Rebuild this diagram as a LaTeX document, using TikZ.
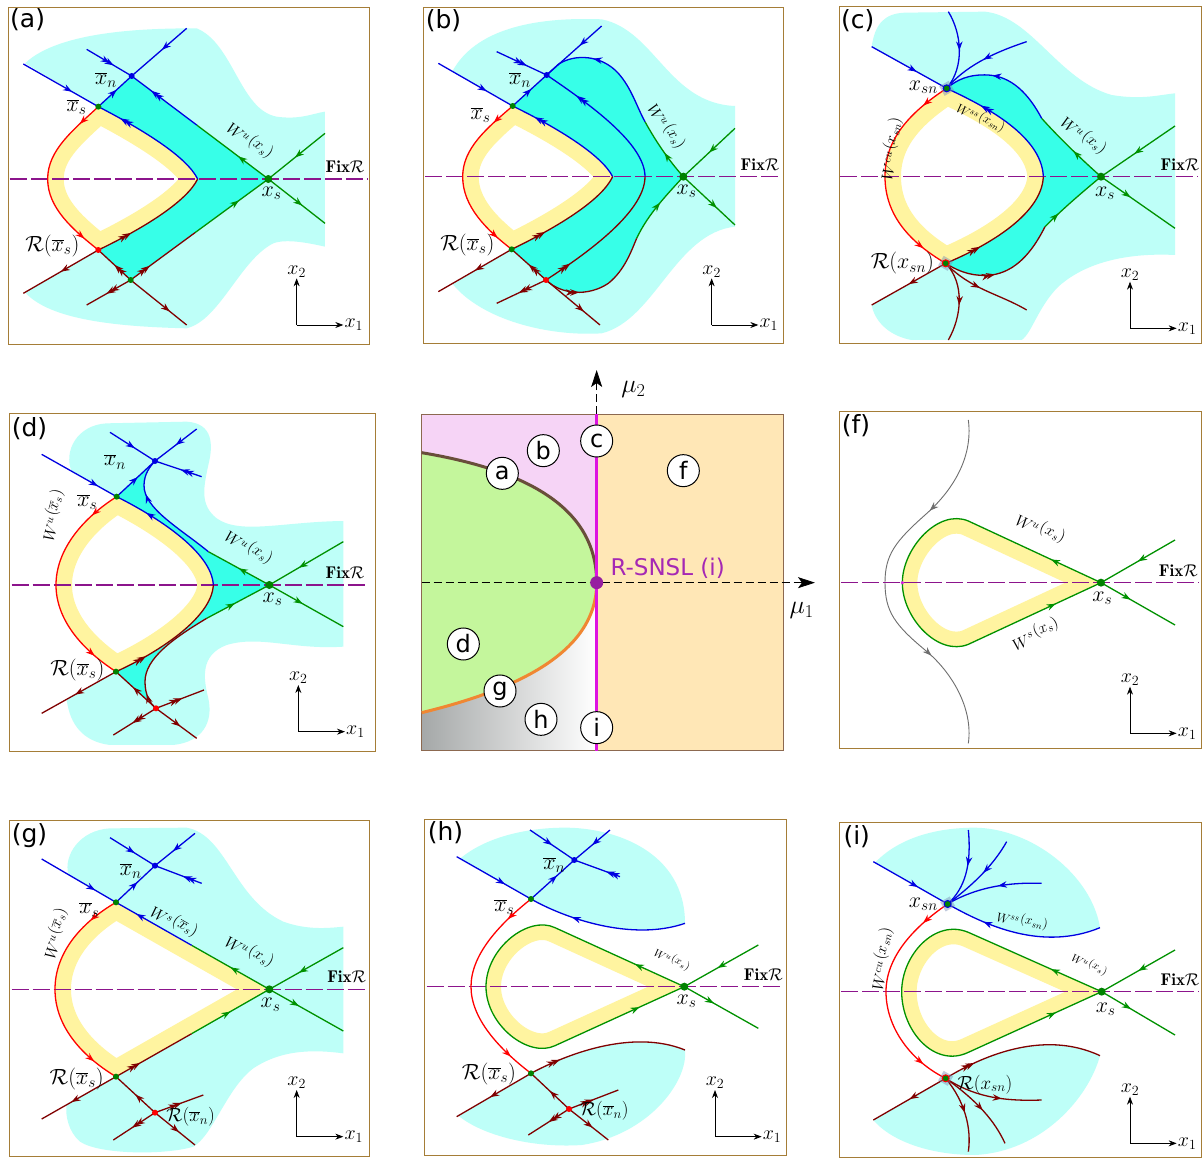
\RequirePackage{fix-cm}
\documentclass[tikz,border=0pt]{standalone}
\usepackage{fontspec}
\newfontfamily\dv{DejaVu Sans}
\usetikzlibrary{arrows.meta,decorations.markings}
\definecolor{cblue}{RGB}{0,0,225}
\definecolor{cgreen}{RGB}{0,145,0}
\definecolor{cred}{RGB}{255,0,0}
\definecolor{cdred}{RGB}{128,0,0}
\definecolor{cpurp}{RGB}{140,20,140}
\definecolor{lcyan}{RGB}{190,255,248}
\definecolor{dcyan}{RGB}{55,255,232}
\definecolor{cyel}{RGB}{255,244,160}
\definecolor{cframe}{RGB}{165,125,55}
\definecolor{cpink}{RGB}{246,212,246}
\definecolor{cgrn}{RGB}{196,246,156}
\definecolor{cpeach}{RGB}{255,231,182}
\definecolor{cbrown}{RGB}{105,78,58}
\definecolor{corange}{RGB}{240,135,50}
\definecolor{cmag}{RGB}{220,20,225}
\definecolor{cdot}{RGB}{150,30,160}
\definecolor{csnsl}{RGB}{165,40,180}
\definecolor{cgrey}{RGB}{110,110,110}
\definecolor{dotg}{RGB}{0,130,0}
\definecolor{cbox}{RGB}{140,105,80}
\definecolor{csq}{RGB}{120,140,180}
\definecolor{cshade}{RGB}{165,168,168}
\tikzset{
 pan/.style 2 args={xshift=#1pt,yshift=-#2pt,x=0.33333pt,y=-0.33333pt},
 ml/.style={line width=1.3pt},
 bl/.style={draw=cblue,ml}, gr/.style={draw=cgreen,ml}, rd/.style={draw=cred,ml}, dr/.style={draw=cdred,ml},
 ar/.style={postaction={decorate,decoration={markings,mark=at position #1 with {\arrow{Stealth[length=9pt,width=6.5pt]}}}}},
 dar/.style={postaction={decorate,decoration={markings,mark=at position #1 with {\arrow{Stealth[length=9pt,width=6.5pt]}\pgftransformxshift{-4.5pt}\arrow{Stealth[length=9pt,width=6.5pt]}}}}},
 fixr/.style={draw=cpurp,line width=1.3pt,dash pattern=on 17pt off 4pt},
 dotn/.style={circle,inner sep=0pt,minimum size=6pt},
 gdot/.style={dotn,fill=dotg}, bdot/.style={dotn,fill=cblue}, rdot/.style={dotn,fill=cred},
 sdot/.style={dotn,fill=dotg,minimum size=8pt},
 ringdot/.style={circle,inner sep=0pt,minimum size=7pt,fill=dotg,draw=#1,line width=1pt},
 sqr/.style={rectangle,inner sep=0pt,minimum size=11pt,fill=csq,fill opacity=0.45},
 lab/.style={inner sep=1pt,font=\fontsize{22}{24}\selectfont},
 axl/.style={inner sep=1pt,font=\fontsize{20}{22}\selectfont},
 slab/.style={inner sep=1pt,font=\fontsize{19}{21}\selectfont},
 wlab/.style={inner sep=0pt,font=\fontsize{16}{18}\selectfont},
 wss/.style={inner sep=0pt,font=\fontsize{13}{15}\selectfont},
 wsm/.style={inner sep=0pt,font=\fontsize{11}{13}\selectfont},
 flab/.style={inner sep=1pt,font=\fontsize{17}{19}\selectfont},
 plab/.style={anchor=north west,inner sep=0pt,font=\dv\fontsize{25}{28}\selectfont},
 frm/.style={draw=cframe,line width=1pt},
 axarr/.style={draw=black,line width=0.8pt,-{Stealth[length=8pt,width=6pt]}},
 cnode/.style={circle,draw=black,line width=1pt,fill=white,minimum size=32pt,inner sep=0pt,font=\dv\fontsize{24}{26}\selectfont},
 bigax/.style={draw=black,line width=0.8pt,dash pattern=on 8pt off 4pt,-{Stealth[length=17pt,width=11pt,inset=4pt]}},
}
\newcommand\Wl[2]{$W^{#1}$\kern0.06em\raisebox{0.3em}{$(#2)$}}
\newcommand\xyax[3]{%
 \coordinate (#1o) at (#2,#3);
 \coordinate (#1t) at (#2,#3-140);
 \coordinate (#1r) at (#2+140,#3);
 \draw[axarr] (#1o) -- (#1t);
 \draw[axarr] (#1o) -- (#1r);
 \node[axl,anchor=south] (#1x2) at (#1t) {$x_2$};
 \node[axl,anchor=west] (#1x1) at (#1r) {$x_1$};
}
\newcommand\fixl[5]{%
 \draw[fixr] (#3,#2) -- (#4,#2);
 \node[flab] (#1) at (#5,#2-37) {$\mathbf{Fix}\mathcal{R}$};
}
\newcommand\plab[4]{\node[plab] (#1) at (#2,#3) {(#4)};}
\begin{document}
\begin{tikzpicture}[x=1pt,y=-1pt]
\fill[white] (0,0) rectangle (1202,1158);
\useasboundingbox (0,0) rectangle (1202,1158);

%================ (a)
\begin{scope}[pan={0}{0}]
\coordinate (aXS) at (805,537);
\coordinate (aXN) at (395,228);
\coordinate (aXB) at (295,320);
\coordinate (aRX) at (295,750);
\coordinate (aLP) at (392,840);
\coordinate (aT) at (593,537);
\coordinate (aG1) at (590,375);
\coordinate (aG2) at (585,698);
\fill[lcyan] (75,190) .. controls (180,90) and (450,85) .. (590,85) .. controls (700,130) and (720,330) .. (830,350) .. controls (900,360) and (940,340) .. (975,335) -- (975,740) .. controls (930,730) and (860,715) .. (820,730) .. controls (720,780) and (660,960) .. (560,985) .. controls (350,980) and (150,960) .. (75,877) -- (aRX) .. controls (220,690) and (143,625) .. (143,537) .. controls (143,450) and (220,390) .. (aXB) -- cycle;
\fill[dcyan] (aXB) -- (aXN) -- (aXS) -- (aLP) -- (aRX) .. controls (430,685) and (560,605) .. (aT) .. controls (560,470) and (430,390) .. (aXB) -- cycle;
\def\lp{(295,320) .. controls (430,390) and (560,470) .. (593,537) .. controls (560,605) and (430,685) .. (295,750) .. controls (220,690) and (143,625) .. (143,537) .. controls (143,450) and (220,390) .. (295,320) -- cycle}
\begin{scope}\clip \lp; \fill[white] \lp; \draw[cyel,line width=32pt] \lp; \end{scope}
\draw[frm] (25,22) rectangle (1110,1035);
\fixl{aF}{537}{30}{1105}{1035}
\draw[gr,ar=0.53] (975,400) -- (aXS);
\draw[gr,ar=0.6] (aXS) -- (975,670);
\draw[gr,ar=0.42] (aXS) -- (aG1);
\draw[bl,dar=0.7] (aG1) -- (aXN);
\draw[gr,ar=0.6] (aG2) -- (aXS);
\draw[dr,dar=0.3] (aLP) -- (aG2);
\draw[bl,ar=0.45] (560,85) -- (aXN);
\draw[bl,dar=0.6] (260,148) -- (aXN);
\draw[bl,ar=0.55] (aXB) -- (aXN);
\draw[bl,ar=0.65] (70,192) -- (aXB);
\draw[bl,dar=0.8] (aT) .. controls (560,470) and (430,390) .. (aXB);
\draw[dr,dar=0.3] (aRX) .. controls (430,685) and (560,605) .. (aT);
\draw[rd,ar=0.14,ar=0.9] (aXB) .. controls (220,390) and (143,450) .. (143,537) .. controls (143,625) and (220,690) .. (aRX);
\draw[dr,ar=0.5] (aRX) -- (70,880);
\draw[dr,dar=0.5] (aLP) -- (aRX);
\draw[dr,dar=0.55] (aLP) -- (260,915);
\draw[dr,ar=0.7] (aLP) -- (560,975);
\node[bdot] (aXNd) at (aXN) {};
\node[gdot] (aXBd) at (aXB) {};
\node[sdot] (aXSd) at (aXS) {};
\node[rdot] (aRXd) at (aRX) {};
\node[gdot] (aLPd) at (aLP) {};
\node[lab] (aL1) at (318,240) {$\overline{x}_n$};
\node[lab] (aL2) at (230,322) {$\overline{x}_s$};
\node[lab] (aL3) at (815,580) {$x_s$};
\node[lab] (aL4) at (157,738) {$\mathcal{R}(\overline{x}_s)$};
\node[wlab,rotate=-38] (aL5) at (752,420) {\Wl{u}{x_s}};
\xyax{a}{890}{975}
\plab{aP}{30}{25}{a}
\end{scope}

%================ (b)
\begin{scope}[pan={415}{0}]
\coordinate (bXN) at (395,225);
\coordinate (bXB) at (293,318);
\coordinate (bXS) at (805,530);
\coordinate (bRX) at (290,748);
\coordinate (bRD) at (393,840);
\coordinate (bT1) at (593,530);
\coordinate (bT2) at (690,530);
\coordinate (bG1) at (690,365);
\coordinate (bG2) at (665,715);
\coordinate (bQ) at (430,193);
\fill[lcyan] (112,214) .. controls (180,90) and (350,50) .. (560,58) .. controls (720,90) and (760,310) .. (960,318) -- (960,680) .. controls (780,700) and (720,960) .. (560,1000) .. controls (400,1010) and (200,960) .. (112,851) -- (bRX) .. controls (215,690) and (143,620) .. (143,530) .. controls (143,445) and (215,385) .. (bXB) -- cycle;
\fill[dcyan] (bXB) -- (bXN) -- (bQ) .. controls (480,160) and (560,165) .. (610,220) .. controls (650,265) and (665,320) .. (bG1) .. controls (720,420) and (760,480) .. (bXS) .. controls (760,580) and (700,640) .. (bG2) .. controls (650,750) and (630,810) .. (580,850) .. controls (520,890) and (440,885) .. (bRD) -- (bRX) .. controls (430,680) and (560,600) .. (bT1) .. controls (560,465) and (430,385) .. (bXB) -- cycle;
\def\lp{(293,318) .. controls (430,385) and (560,465) .. (593,530) .. controls (560,600) and (430,680) .. (290,748) .. controls (215,690) and (143,620) .. (143,530) .. controls (143,445) and (215,385) .. (293,318) -- cycle}
\begin{scope}\clip \lp; \fill[white] \lp; \draw[cyel,line width=32pt] \lp; \end{scope}
\draw[frm] (25,22) rectangle (1105,1030);
\fixl{bF}{530}{30}{1100}{1035}
\draw[gr,ar=0.5] (960,385) -- (bXS);
\draw[gr,ar=0.65] (bXS) -- (960,675);
\draw[gr,ar=0.45] (bXS) .. controls (760,480) and (720,420) .. (bG1);
\draw[bl,ar=0.62] (bG1) .. controls (665,320) and (650,265) .. (610,220) .. controls (560,165) and (480,160) .. (bQ) -- (bXN);
\draw[dr,dar=0.3] (bRD) .. controls (440,885) and (520,890) .. (580,850) .. controls (630,810) and (650,750) .. (bG2);
\draw[gr,ar=0.55] (bG2) .. controls (700,640) and (760,580) .. (bXS);
\draw[bl,dar=0.75] (bT2) .. controls (690,430) and (520,310) .. (bXN);
\draw[dr,dar=0.2] (bRD) .. controls (500,770) and (690,640) .. (bT2);
\draw[bl,dar=0.8] (bT1) .. controls (560,465) and (430,385) .. (bXB);
\draw[dr,dar=0.3] (bRX) .. controls (430,680) and (560,600) .. (bT1);
\draw[bl,ar=0.4] (560,78) -- (bXN);
\draw[bl,dar=0.6] (245,155) -- (bXN);
\draw[bl,ar=0.55] (bXB) -- (bXN);
\draw[bl,ar=0.65] (70,190) -- (bXB);
\draw[rd,ar=0.14,ar=0.9] (bXB) .. controls (215,385) and (143,445) .. (143,530) .. controls (143,620) and (215,690) .. (bRX);
\draw[dr,ar=0.5] (bRX) -- (70,875);
\draw[dr,dar=0.5] (bRD) -- (bRX);
\draw[dr,dar=0.55] (bRD) -- (245,910);
\draw[dr,ar=0.7] (bRD) -- (555,975);
\node[bdot] (bXNd) at (bXN) {};
\node[gdot] (bXBd) at (bXB) {};
\node[sdot] (bXSd) at (bXS) {};
\node[gdot] (bRXd) at (bRX) {};
\node[rdot] (bRDd) at (bRD) {};
\node[lab] (bL1) at (315,240) {$\overline{x}_n$};
\node[lab] (bL2) at (197,345) {$\overline{x}_s$};
\node[lab] (bL3) at (815,574) {$x_s$};
\node[lab] (bL4) at (157,735) {$\mathcal{R}(\overline{x}_s)$};
\node[wlab,rotate=-58] (bL5) at (757,378) {\Wl{u}{x_s}};
\xyax{b}{890}{975}
\plab{bP}{32}{28}{b}
\end{scope}

%================ (c)
\begin{scope}[pan={825}{0}]
\coordinate (cXN) at (365,265);
\coordinate (cRX) at (362,790);
\coordinate (cXS) at (828,530);
\coordinate (cT) at (655,530);
\coordinate (cG1) at (650,355);
\coordinate (cG2) at (660,680);
\fill[lcyan] (140,140) .. controls (150,70) and (180,40) .. (240,38) -- (480,35) .. controls (620,50) and (700,240) .. (860,285) .. controls (950,300) and (1000,285) .. (1050,280) -- (1050,765) .. controls (950,760) and (800,770) .. (700,860) .. controls (640,920) and (620,1000) .. (590,1020) -- (260,1020) .. controls (200,1010) and (150,970) .. (140,915) -- (cRX) .. controls (260,730) and (180,650) .. (180,530) .. controls (180,420) and (250,340) .. (cXN) -- cycle;
\fill[dcyan] (cXN) .. controls (395,240) and (430,222) .. (490,225) .. controls (560,230) and (610,280) .. (cG1) .. controls (690,400) and (760,470) .. (cXS) .. controls (780,570) and (720,620) .. (cG2) .. controls (620,760) and (570,815) .. (500,825) .. controls (450,830) and (410,820) .. (cRX) .. controls (470,745) and (650,650) .. (cT) .. controls (650,400) and (460,310) .. (cXN) -- cycle;
\def\lp{(365,265) .. controls (460,310) and (650,400) .. (655,530) .. controls (650,650) and (470,745) .. (362,790) .. controls (260,730) and (180,650) .. (180,530) .. controls (180,420) and (250,340) .. (365,265) -- cycle}
\begin{scope}\clip \lp; \fill[white] \lp; \draw[cyel,line width=32pt] \lp; \end{scope}
\draw[frm] (42,20) rectangle (1128,1030);
\fixl{cF}{530}{45}{1120}{1065}
\draw[gr,ar=0.55] (1050,378) -- (cXS);
\draw[gr,ar=0.4] (cXS) -- (1050,685);
\draw[gr,ar=0.45] (cXS) .. controls (760,470) and (690,400) .. (cG1);
\draw[bl,ar=0.58] (cG1) .. controls (610,280) and (560,230) .. (490,225) .. controls (430,222) and (395,240) .. (cXN);
\draw[dr,dar=0.42] (cRX) .. controls (410,820) and (450,830) .. (500,825) .. controls (570,815) and (620,760) .. (cG2);
\draw[gr,ar=0.25] (cG2) .. controls (720,620) and (780,570) .. (cXS);
\draw[bl,dar=0.72] (cT) .. controls (650,400) and (460,310) .. (cXN);
\draw[dr,dar=0.28] (cRX) .. controls (470,745) and (650,650) .. (cT);
\draw[rd,ar=0.13,ar=0.88] (cXN) .. controls (250,340) and (180,420) .. (180,530) .. controls (180,650) and (260,730) .. (cRX);
\draw[bl,ar=0.6] (140,140) -- (cXN);
\draw[bl,ar=0.5] (370,35) .. controls (410,100) and (420,200) .. (cXN);
\draw[bl,ar=0.5] (605,125) .. controls (500,160) and (420,200) .. (cXN);
\draw[dr,ar=0.5] (cRX) -- (140,915);
\draw[dr,ar=0.55] (cRX) .. controls (420,850) and (410,950) .. (370,1020);
\draw[dr,ar=0.45] (cRX) .. controls (440,870) and (520,880) .. (605,930);
\node[sqr,rotate=30] (cS1) at (cXN) {};
\node[sqr,rotate=-30] (cS2) at (cRX) {};
\node[ringdot=cblue] (cXNd) at (cXN) {};
\node[ringdot=cred] (cRXd) at (cRX) {};
\node[sdot] (cXSd) at (cXS) {};
\node[lab] (cL1) at (295,262) {$x_{sn}$};
\node[lab] (cL2) at (232,790) {$\mathcal{R}(x_{sn})$};
\node[lab] (cL3) at (840,580) {$x_s$};
\node[wlab,rotate=-40] (cL4) at (778,405) {\Wl{u}{x_s}};
\node[wss,rotate=-28] (cL5) at (468,352) {\Wl{ss}{x_{sn}}};
\node[wlab,rotate=78] (cL6) at (196,445) {\Wl{cu}{x_{sn}}};
\xyax{c}{915}{985}
\plab{cP}{48}{28}{c}
\end{scope}

%================ (d)
\begin{scope}[pan={0}{405}]
\coordinate (dXN) at (465,168);
\coordinate (dXB) at (350,275);
\coordinate (dXS) at (808,540);
\coordinate (dRX) at (348,800);
\coordinate (dRD) at (468,910);
\coordinate (dT) at (640,540);
\coordinate (dG1) at (625,440);
\coordinate (dG2) at (620,640);
\fill[lcyan] (215,199) .. controls (190,140) and (230,60) .. (320,55) -- (560,50) .. controls (640,55) and (640,120) .. (625,180) .. controls (610,250) and (600,300) .. (650,340) .. controls (720,390) and (850,350) .. (1030,348) -- (1030,725) .. controls (880,735) and (780,690) .. (680,720) .. controls (600,750) and (610,820) .. (625,880) .. controls (640,950) and (610,1010) .. (520,1020) -- (330,1020) .. controls (250,1010) and (210,960) .. (200,884) -- (dRX) .. controls (240,730) and (168,640) .. (168,540) .. controls (168,440) and (240,345) .. (dXB) -- cycle;
\fill[dcyan] (dXB) -- (dXN) .. controls (450,185) and (433,205) .. (432,240) .. controls (430,310) and (540,370) .. (dG1) -- (dXS) -- (dG2) .. controls (520,700) and (435,760) .. (435,830) .. controls (435,870) and (450,895) .. (dRD) -- (dRX) .. controls (470,745) and (635,640) .. (dT) .. controls (635,440) and (470,335) .. (dXB) -- cycle;
\def\lp{(350,275) .. controls (470,335) and (635,440) .. (640,540) .. controls (635,640) and (470,745) .. (348,800) .. controls (240,730) and (168,640) .. (168,540) .. controls (168,440) and (240,345) .. (350,275) -- cycle}
\begin{scope}\clip \lp; \fill[white] \lp; \draw[cyel,line width=32pt] \lp; \end{scope}
\draw[frm] (28,25) rectangle (1128,1040);
\fixl{dF}{540}{35}{1105}{1035}
\draw[gr,ar=0.6] (1030,410) -- (dXS);
\draw[gr,ar=0.45] (dXS) -- (1030,665);
\draw[gr,ar=0.5] (dXS) -- (dG1);
\draw[bl,ar=0.7] (dG1) .. controls (540,370) and (430,310) .. (432,240) .. controls (433,205) and (450,185) .. (dXN);
\draw[dr,ar=0.14] (dRD) .. controls (450,895) and (435,870) .. (435,830) .. controls (435,760) and (520,700) .. (dG2);
\draw[gr,ar=0.45] (dG2) -- (dXS);
\draw[bl,ar=0.75] (dT) .. controls (635,440) and (470,335) .. (dXB);
\draw[dr,dar=0.25] (dRX) .. controls (470,745) and (635,640) .. (dT);
\draw[rd,ar=0.14,ar=0.88] (dXB) .. controls (240,345) and (168,440) .. (168,540) .. controls (168,640) and (240,730) .. (dRX);
\draw[bl,ar=0.55] (330,82) -- (dXN);
\draw[bl,ar=0.5] (590,72) -- (dXN);
\draw[bl,dar=0.45] (605,215) -- (dXN);
\draw[bl,ar=0.55] (dXB) -- (dXN);
\draw[bl,ar=0.75] (125,148) -- (dXB);
\draw[dr,ar=0.55] (dRX) -- (125,925);
\draw[dr,ar=0.57] (dRD) -- (dRX);
\draw[dr,dar=0.55] (dRD) -- (340,990);
\draw[dr,dar=0.55] (dRD) -- (612,855);
\draw[dr,ar=0.6] (dRD) -- (590,1000);
\node[bdot] (dXNd) at (dXN) {};
\node[gdot] (dXBd) at (dXB) {};
\node[sdot] (dXSd) at (dXS) {};
\node[gdot] (dRXd) at (dRX) {};
\node[rdot] (dRDd) at (dRD) {};
\node[lab] (dL1) at (345,170) {$\overline{x}_n$};
\node[lab] (dL2) at (262,292) {$\overline{x}_s$};
\node[lab] (dL3) at (818,582) {$x_s$};
\node[lab] (dL4) at (232,795) {$\mathcal{R}(\overline{x}_s)$};
\node[wlab,rotate=-33] (dL5) at (748,425) {\Wl{u}{x_s}};
\node[wlab,rotate=75] (dL6) at (156,330) {\Wl{u}{\overline{x}_s}};
\xyax{d}{895}{980}
\plab{dP}{35}{38}{d}
\end{scope}

%================ centre
\begin{scope}[pan={415}{360}]
\fill[cpeach] (545,162) rectangle (1105,1172);
\fill[cpink] (20,162) rectangle (545,668);
\shade[left color=cshade,right color=white] (20,1058) .. controls (300,990) and (545,880) .. (545,668) -- (545,1172) -- (20,1172) -- cycle;
\fill[cgrn] (20,278) .. controls (330,330) and (545,440) .. (545,668) .. controls (545,880) and (300,990) .. (20,1058) -- cycle;
\draw[draw=cbox,line width=0.8pt] (20,162) rectangle (1105,1172);
\draw[cbrown,line width=3pt] (20,278) .. controls (330,330) and (545,440) .. (545,668);
\draw[corange,line width=3pt] (545,668) .. controls (545,880) and (300,990) .. (20,1058);
\coordinate (m0) at (545,668);
\coordinate (m1) at (1200,668);
\coordinate (m2) at (545,30);
\draw[bigax] (20,668) -- (m1);
\draw[bigax] (545,162) -- (m2);
\draw[cmag,line width=3pt] (545,162) -- (545,1172);
\node[circle,fill=cdot,minimum size=13pt,inner sep=0pt] (snsl) at (m0) {};
\node[text=csnsl,font=\dv\fontsize{23}{26}\selectfont] (snslL) at (758,625) {R-SNSL (i)};
\node[font=\fontsize{26}{28}\selectfont] (mu2) at (655,88) {$\mu_2$};
\node[font=\fontsize{26}{28}\selectfont] (mu1) at (1160,752) {$\mu_1$};
\node[cnode] (ca) at (262,340) {a};
\node[cnode] (cb) at (385,272) {b};
\node[cnode] (cc) at (545,243) {c};
\node[cnode] (cf) at (805,332) {f};
\node[cnode] (cd) at (145,852) {d};
\node[cnode] (cg) at (255,993) {g};
\node[cnode] (ch) at (378,1078) {h};
\node[cnode] (ci) at (545,1103) {i};
\end{scope}

%================ (f)
\begin{scope}[pan={825}{405}]
\coordinate (fXS) at (828,533);
\def\lp{(828,533) -- (430,348) .. controls (340,310) and (232,430) .. (232,533) .. controls (232,640) and (340,755) .. (430,718) -- (828,533) -- cycle}
\begin{scope}\clip \lp; \draw[cyel,line width=30pt] \lp; \end{scope}
\draw[frm] (42,20) rectangle (1128,1030);
\draw[draw=cgrey,line width=0.9pt,ar=0.27,ar=0.74] (430,45) .. controls (445,160) and (380,260) .. (300,330) .. controls (210,410) and (180,450) .. (180,533) .. controls (180,620) and (210,660) .. (300,735) .. controls (380,800) and (445,910) .. (430,1015);
\fixl{fF}{533}{48}{1120}{1060}
\draw[gr,ar=0.11,ar=0.9] (fXS) -- (430,348) .. controls (340,310) and (232,430) .. (232,533) .. controls (232,640) and (340,755) .. (430,718) -- (fXS);
\draw[gr,ar=0.5] (1050,405) -- (fXS);
\draw[gr,ar=0.4] (fXS) -- (1050,660);
\node[circle,fill=cmag,minimum size=3.5pt,inner sep=0pt] (fM) at (232,533) {};
\node[sdot] (fXSd) at (fXS) {};
\node[lab] (fL1) at (832,580) {$x_s$};
\node[wlab,rotate=-25] (fL2) at (648,368) {\Wl{u}{x_s}};
\node[wlab,rotate=25] (fL3) at (630,684) {\Wl{s}{x_s}};
\xyax{f}{915}{985}
\plab{fP}{50}{28}{f}
\end{scope}

%================ (g)
\begin{scope}[pan={0}{815}]
\coordinate (gXN) at (465,152);
\coordinate (gXB) at (348,262);
\coordinate (gXS) at (808,523);
\coordinate (gRX) at (348,785);
\coordinate (gRN) at (465,893);
\coordinate (gG1) at (575,391);
\coordinate (gG2) at (575,656);
\fill[lcyan] (205,179) .. controls (190,120) and (240,45) .. (330,40) -- (560,38) .. controls (680,60) and (700,250) .. (850,320) .. controls (920,345) and (980,340) .. (1030,335) -- (1030,715) .. controls (950,705) and (850,700) .. (760,760) .. controls (680,820) and (640,960) .. (580,995) .. controls (500,1020) and (300,1020) .. (240,980) .. controls (205,950) and (195,900) .. (200,869) -- (gRX) .. controls (240,720) and (165,630) .. (165,523) .. controls (165,415) and (240,325) .. (gXB) -- cycle;
\def\lp{(348,262) -- (808,523) -- (348,785) .. controls (240,720) and (165,630) .. (165,523) .. controls (165,415) and (240,325) .. (348,262) -- cycle}
\begin{scope}\clip \lp; \fill[white] \lp; \draw[cyel,line width=32pt] \lp; \end{scope}
\draw[frm] (28,15) rectangle (1110,1025);
\fixl{gF}{523}{35}{1105}{1040}
\draw[gr,ar=0.6] (1030,398) -- (gXS);
\draw[gr,ar=0.4] (gXS) -- (1030,648);
\draw[gr,ar=0.5] (gXS) -- (gG1);
\draw[bl,ar=0.73] (gG1) -- (gXB);
\draw[dr,dar=0.32] (gRX) -- (gG2);
\draw[gr,ar=0.5] (gG2) -- (gXS);
\draw[rd,ar=0.14,ar=0.88] (gXB) .. controls (240,325) and (165,415) .. (165,523) .. controls (165,630) and (240,720) .. (gRX);
\draw[bl,ar=0.55] (330,68) -- (gXN);
\draw[bl,ar=0.55] (585,55) -- (gXN);
\draw[bl,dar=0.4] (605,205) -- (gXN);
\draw[bl,ar=0.55] (gXB) -- (gXN);
\draw[bl,ar=0.72] (125,132) -- (gXB);
\draw[dr,ar=0.6] (gRX) -- (125,912);
\draw[dr,ar=0.5] (gRN) -- (gRX);
\draw[dr,dar=0.55] (gRN) -- (340,975);
\draw[dr,dar=0.55] (gRN) -- (610,840);
\draw[dr,ar=0.6] (gRN) -- (585,990);
\node[bdot] (gXNd) at (gXN) {};
\node[gdot] (gXBd) at (gXB) {};
\node[sdot] (gXSd) at (gXS) {};
\node[gdot] (gRXd) at (gRX) {};
\node[rdot] (gRNd) at (gRN) {};
\node[lab] (gL1) at (392,168) {$\overline{x}_n$};
\node[lab] (gL2) at (268,284) {$\overline{x}_s$};
\node[lab] (gL3) at (812,569) {$x_s$};
\node[lab] (gL4) at (230,792) {$\mathcal{R}(\overline{x}_s)$};
\node[slab] (gL5) at (572,905) {$\mathcal{R}(\overline{x}_n)$};
\node[wlab,rotate=-30] (gL6) at (524,318) {\Wl{s}{\overline{x}_s}};
\node[wlab,rotate=-30] (gL7) at (750,408) {\Wl{u}{x_s}};
\node[wlab,rotate=72] (gL8) at (164,355) {\Wl{u}{\overline{x}_s}};
\xyax{g}{890}{965}
\plab{gP}{35}{25}{g}
\end{scope}

%================ (h)
\begin{scope}[pan={415}{815}]
\coordinate (hXN) at (478,135);
\coordinate (hXB) at (348,252);
\coordinate (hXS) at (808,515);
\coordinate (hRX) at (348,775);
\coordinate (hRN) at (462,882);
\coordinate (hU) at (810,325);
\coordinate (hL) at (810,705);
\fill[lcyan] (135,131) .. controls (220,60) and (350,38) .. (450,38) .. controls (600,38) and (810,110) .. (hU) .. controls (650,380) and (450,310) .. (hXB) -- cycle;
\fill[lcyan] (130,902) -- (hRX) .. controls (450,720) and (650,640) .. (hL) .. controls (820,800) and (700,960) .. (500,990) .. controls (350,1000) and (200,960) .. (130,902) -- cycle;
\def\lp{(808,515) -- (420,338) .. controls (340,300) and (213,400) .. (213,515) .. controls (213,630) and (340,730) .. (420,692) -- (808,515) -- cycle}
\begin{scope}\clip \lp; \draw[cyel,line width=30pt] \lp; \end{scope}
\draw[frm] (28,12) rectangle (1115,1022);
\fixl{hF}{515}{35}{1105}{1045}
\draw[gr,ar=0.55] (1030,390) -- (hXS);
\draw[gr,ar=0.4] (hXS) -- (1030,640);
\draw[gr,ar=0.11,ar=0.9] (hXS) -- (420,338) .. controls (340,300) and (213,400) .. (213,515) .. controls (213,630) and (340,730) .. (420,692) -- (hXS);
\draw[bl,ar=0.72] (hU) .. controls (650,380) and (450,310) .. (hXB);
\draw[dr,dar=0.2] (hRX) .. controls (450,720) and (650,640) .. (hL);
\draw[rd,ar=0.14,ar=0.88] (hXB) .. controls (250,330) and (168,420) .. (168,515) .. controls (168,610) and (250,700) .. (hRX);
\draw[bl,ar=0.5] (345,45) -- (hXN);
\draw[bl,ar=0.5] (585,45) -- (hXN);
\draw[bl,dar=0.3] (615,185) -- (hXN);
\draw[bl,ar=0.6] (hXB) -- (hXN);
\draw[bl,ar=0.65] (125,125) -- (hXB);
\draw[dr,ar=0.55] (hRX) -- (125,905);
\draw[dr,ar=0.5] (hRN) -- (hRX);
\draw[dr,dar=0.5] (hRN) -- (340,960);
\draw[dr,dar=0.5] (hRN) -- (610,825);
\draw[dr,ar=0.6] (hRN) -- (580,975);
\node[bdot] (hXNd) at (hXN) {};
\node[gdot] (hXBd) at (hXB) {};
\node[sdot] (hXSd) at (hXS) {};
\node[gdot] (hRXd) at (hRX) {};
\node[rdot] (hRNd) at (hRN) {};
\node[lab] (hL1) at (418,150) {$\overline{x}_n$};
\node[lab] (hL2) at (268,277) {$\overline{x}_s$};
\node[lab] (hL3) at (815,559) {$x_s$};
\node[lab] (hL4) at (222,777) {$\mathcal{R}(\overline{x}_s)$};
\node[slab] (hL5) at (568,888) {$\mathcal{R}(\overline{x}_n)$};
\node[wsm,rotate=-28] (hL6) at (772,432) {\Wl{u}{x_s}};
\xyax{h}{900}{965}
\plab{hP}{38}{18}{h}
\end{scope}

%================ (i)
\begin{scope}[pan={825}{815}]
\coordinate (iXN) at (368,267);
\coordinate (iRX) at (362,790);
\coordinate (iXS) at (830,530);
\coordinate (iU) at (825,338);
\coordinate (iL) at (825,722);
\fill[lcyan] (150,143) .. controls (220,70) and (330,38) .. (450,38) .. controls (620,40) and (800,180) .. (iU) .. controls (650,410) and (480,330) .. (iXN) -- cycle;
\fill[lcyan] (145,915) -- (iRX) .. controls (460,730) and (650,640) .. (iL) .. controls (790,850) and (650,1010) .. (450,1020) .. controls (300,1020) and (190,970) .. (145,915) -- cycle;
\def\lp{(830,530) -- (430,352) .. controls (330,310) and (230,420) .. (230,530) .. controls (230,650) and (330,760) .. (430,712) -- (830,530) -- cycle}
\begin{scope}\clip \lp; \draw[cyel,line width=30pt] \lp; \end{scope}
\draw[frm] (42,22) rectangle (1128,1026);
\fixl{iF}{530}{48}{1120}{1065}
\draw[gr,ar=0.5] (1050,405) -- (iXS);
\draw[gr,ar=0.4] (iXS) -- (1050,660);
\draw[gr,ar=0.11,ar=0.9] (iXS) -- (430,352) .. controls (330,310) and (230,420) .. (230,530) .. controls (230,650) and (330,760) .. (430,712) -- (iXS);
\draw[bl,ar=0.75] (iU) .. controls (650,410) and (480,330) .. (iXN);
\draw[dr,dar=0.2] (iRX) .. controls (460,730) and (650,640) .. (iL);
\draw[rd,ar=0.14,ar=0.88] (iXN) .. controls (260,340) and (183,430) .. (183,530) .. controls (183,640) and (260,740) .. (iRX);
\draw[bl,ar=0.6] (145,140) -- (iXN);
\draw[bl,ar=0.45] (430,45) .. controls (440,150) and (420,220) .. (iXN);
\draw[bl,ar=0.45] (545,80) .. controls (500,160) and (430,220) .. (iXN);
\draw[bl,ar=0.45] (650,205) .. controls (520,200) and (430,230) .. (iXN);
\draw[dr,ar=0.5] (iRX) -- (145,915);
\draw[dr,ar=0.5] (iRX) .. controls (420,860) and (440,940) .. (430,1010);
\draw[dr,ar=0.55] (iRX) .. controls (460,860) and (510,920) .. (540,985);
\draw[dr,ar=0.6] (iRX) .. controls (440,840) and (520,860) .. (650,855);
\node[sqr,rotate=30] (iS1) at (iXN) {};
\node[sqr,rotate=-30] (iS2) at (iRX) {};
\node[ringdot=cblue] (iXNd) at (iXN) {};
\node[ringdot=cred] (iRXd) at (iRX) {};
\node[sdot] (iXSd) at (iXS) {};
\node[lab] (iL1) at (295,267) {$x_{sn}$};
\node[slab] (iL2) at (480,808) {$\mathcal{R}(x_{sn})$};
\node[lab] (iL3) at (842,582) {$x_s$};
\node[wss,rotate=-12] (iL4) at (592,316) {\Wl{ss}{x_{sn}}};
\node[wsm,rotate=-28] (iL5) at (794,447) {\Wl{u}{x_s}};
\node[wlab,rotate=78] (iL6) at (168,430) {\Wl{cu}{x_{sn}}};
\xyax{i}{915}{985}
\plab{iP}{55}{30}{i}
\end{scope}
\end{tikzpicture}
\end{document}
